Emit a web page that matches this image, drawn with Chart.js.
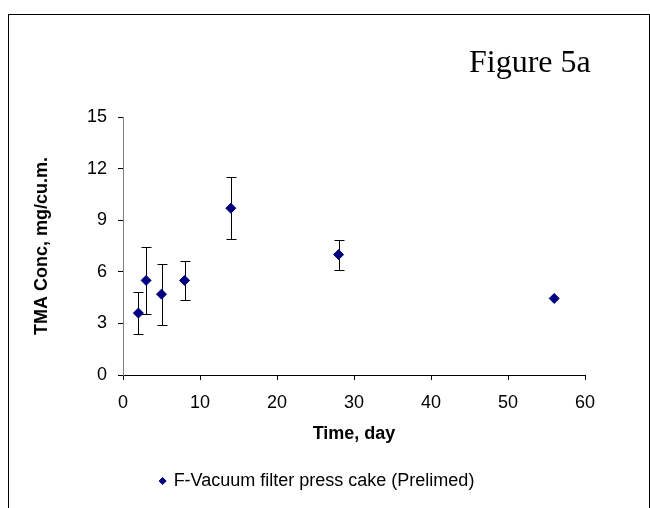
<!DOCTYPE html>
<html>
<head>
<meta charset="utf-8">
<script src="https://cdn.jsdelivr.net/npm/chart.js@4.4.1/dist/chart.umd.min.js"></script>
<style>
  body { margin: 0; background: #fff; }
  #wrap { width: 650px; height: 508px; }
</style>
</head>
<body>
<div id="wrap"><canvas id="graficoTMA" width="650" height="508"></canvas></div>
<script>
// valores
var dias = [2, 3, 5, 8, 14, 28, 56];
var concTMA = [3.6, 5.5, 4.7, 5.5, 9.7, 7.0, 4.45];
var errorTMA = [1.23, 1.93, 1.77, 1.12, 1.82, 0.87, 0];
var ticksY = [0, 3, 6, 9, 12, 15];
var ticksX = [0, 10, 20, 30, 40, 50, 60];

var fuente = "'Liberation Sans', Arial, sans-serif";

// barras de error
const barrasError = {
    id: 'barrasError',
    beforeDatasetsDraw(chart) {
        const ctx = chart.ctx;
        const sx = chart.scales.x;
        const sy = chart.scales.y;
        ctx.save();
        ctx.strokeStyle = '#000';
        ctx.lineWidth = 1;
        for (let i = 0; i < dias.length; i++) {
            if (!errorTMA[i]) continue;
            const x = Math.round(sx.getPixelForValue(dias[i])) + 0.5;
            const y1 = Math.round(sy.getPixelForValue(concTMA[i] + errorTMA[i])) + 0.5;
            const y2 = Math.round(sy.getPixelForValue(concTMA[i] - errorTMA[i])) + 0.5;
            ctx.beginPath();
            ctx.moveTo(x, y1); ctx.lineTo(x, y2);
            ctx.moveTo(x - 5, y1); ctx.lineTo(x + 5, y1);
            ctx.moveTo(x - 5, y2); ctx.lineTo(x + 5, y2);
            ctx.stroke();
        }
        ctx.restore();
    }
};

// marco y titulo "Figure 5a"
const marco = {
    id: 'marco',
    afterLayout(chart) {
        chart.legend.left += 25;
        chart.legend.right += 25;
    },
    afterDraw(chart) {
        const ctx = chart.ctx;
        ctx.save();
        ctx.strokeStyle = '#000';
        ctx.lineWidth = 1;
        ctx.strokeRect(8.5, 14.5, 641, 520);
        ctx.fillStyle = '#000';
        ctx.font = "32px 'Liberation Serif', 'Times New Roman', serif";
        ctx.textAlign = 'left';
        ctx.textBaseline = 'alphabetic';
        ctx.fillText('Figure 5a', 469, 72);
        ctx.restore();
    }
};

const ctx = document.getElementById('graficoTMA').getContext('2d');

var chartTMA = new Chart(ctx, {
    type: 'scatter',
    data: {
        datasets: [{
            label: 'F-Vacuum filter press cake (Prelimed)',
            data: dias.map((d, i) => ({ x: d, y: concTMA[i] })),
            pointStyle: 'rectRot',
            pointRadius: 5,
            pointHoverRadius: 5,
            backgroundColor: '#000080',
            borderColor: '#000080',
            borderWidth: 1
        }]
    },
    options: {
        responsive: false,
        animation: false,
        layout: { padding: { top: 117, right: 65, bottom: 8, left: 0 } },
        plugins: {
            tooltip: { enabled: false },
            legend: {
                position: 'bottom',
                labels: {
                    usePointStyle: true,
                    boxHeight: 5,
                    boxWidth: 4,
                    padding: 10,
                    color: '#000',
                    font: { family: fuente, size: 18 }
                }
            }
        },
        scales: {
            x: {
                type: 'linear',
                min: 0,
                max: 60,
                afterFit: function (scale) { scale.height = 87; },
                afterBuildTicks: function (scale) { scale.ticks = ticksX.map(v => ({ value: v })); },
                grid: { drawOnChartArea: false, drawTicks: true, tickLength: 5, tickColor: '#000' },
                border: { color: '#000', width: 1 },
                ticks: { padding: 12, color: '#000', font: { family: fuente, size: 18 }, maxRotation: 0 },
                title: {
                    display: true,
                    text: 'Time, day',
                    color: '#000',
                    font: { family: fuente, size: 18, weight: 'bold' },
                    padding: { top: 0, bottom: 17 }
                }
            },
            y: {
                min: 0,
                max: 15,
                afterFit: function (scale) { scale.width = 123; },
                afterBuildTicks: function (scale) { scale.ticks = ticksY.map(v => ({ value: v })); },
                grid: { drawOnChartArea: false, drawTicks: true, tickLength: 5, tickColor: '#000' },
                border: { color: '#808080', width: 1 },
                ticks: { padding: 11, color: '#000', font: { family: fuente, size: 18 } },
                title: {
                    display: true,
                    text: 'TMA Conc, mg/cu.m.',
                    color: '#000',
                    font: { family: fuente, size: 18, weight: 'bold' },
                    padding: { top: 31, bottom: 0 }
                }
            }
        }
    },
    plugins: [barrasError, marco]
});
</script>
</body>
</html>
